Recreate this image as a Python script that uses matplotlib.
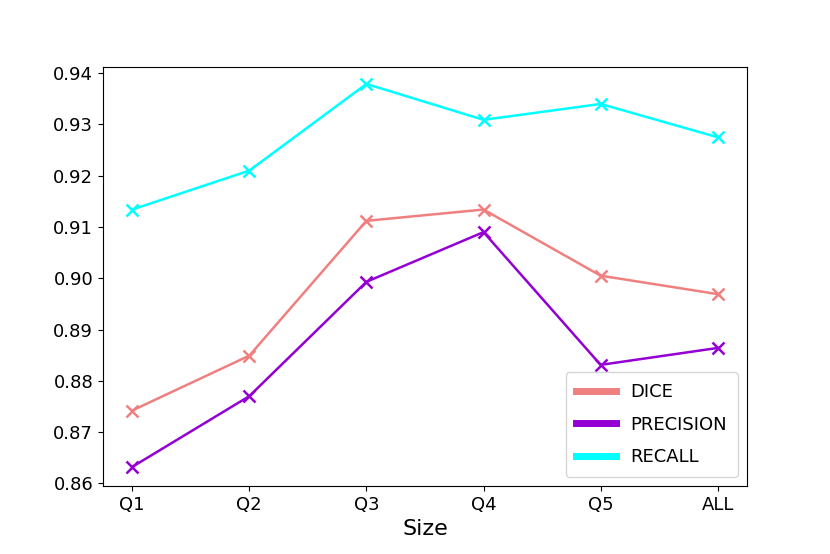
import matplotlib
matplotlib.use("Agg")
import matplotlib.pyplot as plt
from matplotlib.lines import Line2D

categories = ["Q1", "Q2", "Q3", "Q4", "Q5", "ALL"]
dice = [0.8742, 0.8849, 0.9112, 0.9134, 0.9005, 0.8969]
precision = [0.8632, 0.8770, 0.8993, 0.9090, 0.8831, 0.8864]
recall = [0.9134, 0.9210, 0.9379, 0.9309, 0.9340, 0.9275]
colors = ["lightcoral", "darkviolet", "cyan"]
labels = ["DICE", "PRECISION", "RECALL"]

fig, ax = plt.subplots(figsize=(8.3, 5.54), dpi=100)
fig.subplots_adjust(left=0.124, right=0.9, bottom=0.123, top=0.879)
x = range(len(categories))
for vals, c in zip([dice, precision, recall], colors):
    ax.plot(x, vals, color=c, marker="x", markersize=9, mew=1.8, lw=1.8)
ax.set_xticks(list(x))
ax.set_xticklabels(categories)
ax.set_ylim(0.8595, 0.9412)
ax.set_yticks([0.86, 0.87, 0.88, 0.89, 0.90, 0.91, 0.92, 0.93, 0.94])
ax.tick_params(labelsize=13)
ax.set_xlabel("Size", fontsize=16)
handles = [Line2D([], [], color=c, lw=5) for c in colors]
ax.legend(handles, labels, loc="lower right", fontsize=13, labelspacing=0.8,
          borderpad=0.6, handlelength=2.2)
fig.savefig("out.png")
